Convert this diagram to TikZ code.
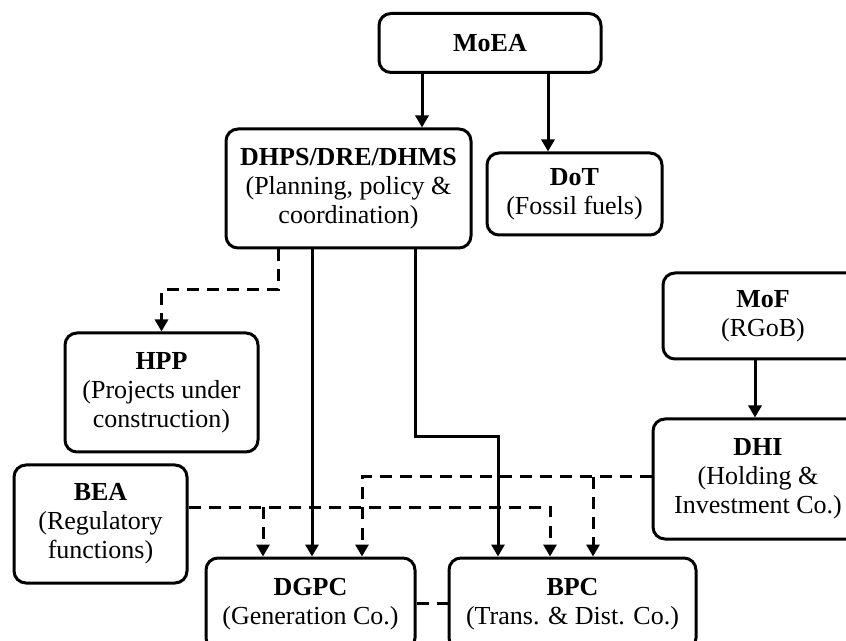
\documentclass[tikz,border=0pt]{standalone}
\usepackage{fontspec}
\setmainfont{Liberation Serif}
\usetikzlibrary{arrows.meta}
\tikzset{box/.style={draw, line width=1.5pt, rounded corners=6pt, align=center, inner sep=0pt, font=\fontsize{13}{14.5}\selectfont}}
\tikzset{arr/.style={line width=1.5pt, -{Triangle[length=6pt, width=6.5pt]}}}
\tikzset{dasharr/.style={arr, dash pattern=on 6pt off 4pt}}
\tikzset{dashline/.style={line width=1.5pt, dash pattern=on 6pt off 4pt}}

\begin{document}
\begin{tikzpicture}[x=0.5pt, y=-0.5pt]
    \useasboundingbox (0,0) rectangle (846,641);
    \clip (0,0) rectangle (846,641);

    \node[box, minimum width=111pt, minimum height=29.5pt] (moea) at (490,43) {\textbf{MoEA}};
    \node[box, minimum width=122.5pt, minimum height=59.5pt] (dhps) at (348.5,188.5)
        {\textbf{DHPS/DRE/DHMS}\\(Planning, policy \&\\coordination)};
    \node[box, minimum width=87.5pt, minimum height=41pt] (dot) at (574.5,194)
        {\textbf{DoT}\\(Fossil fuels)};
    \node[box, minimum width=96.5pt, minimum height=59.5pt] (hpp) at (161.5,392.5)
        {\textbf{HPP}\\(Projects under\\construction)};
    \node[box, minimum width=86.5pt, minimum height=59pt] (bea) at (100.5,524)
        {\textbf{BEA}\\(Regulatory\\functions)};
    \node[box, minimum width=100pt, minimum height=43pt] (mof) at (763,316)
        {\textbf{MoF}\\(RGoB)};
    \node[box, minimum width=105pt, minimum height=60pt] (dhi) at (758,479)
        {\textbf{DHI}\\(Holding \&\\Investment Co.)};
    \node[box, minimum width=104.5pt, minimum height=46pt] (dgpc) at (310.5,604)
        {\textbf{DGPC}\\(Generation Co.)};
    \node[box, minimum width=123.5pt, minimum height=46pt] (bpc) at (572.5,604)
        {\textbf{BPC}\\(Trans. \& Dist. Co.)};

    % ministry lines
    \draw[arr] (422,0 |- moea.south) -- (422,0 |- dhps.north);
    \draw[arr] (548,0 |- moea.south) -- (548,0 |- dot.north);
    \draw[arr] (755,0 |- mof.south) -- (755,0 |- dhi.north);

    % from DHPS
    \draw[dasharr] (278,0 |- dhps.south) -- (278,290) -| (hpp.north);
    \draw[arr] (312,0 |- dhps.south) -- (312,0 |- dgpc.north);
    \draw[arr] (415,0 |- dhps.south) -- (415,437) -| (498,0 |- bpc.north);

    % regulator and holding company
    \draw[dasharr] (bea.east |- 0,507) -- (550,507) -- (550,0 |- bpc.north);
    \draw[dasharr] (263,507) -- (263,0 |- dgpc.north);
    \draw[dasharr] (dhi.west |- 0,477) -- (362,477) -- (362,0 |- dgpc.north);
    \draw[dasharr] (593,477) -- (593,0 |- bpc.north);

    \draw[dashline] (dgpc.east |- 0,603) -- (bpc.west |- 0,603);
\end{tikzpicture}
\end{document}
